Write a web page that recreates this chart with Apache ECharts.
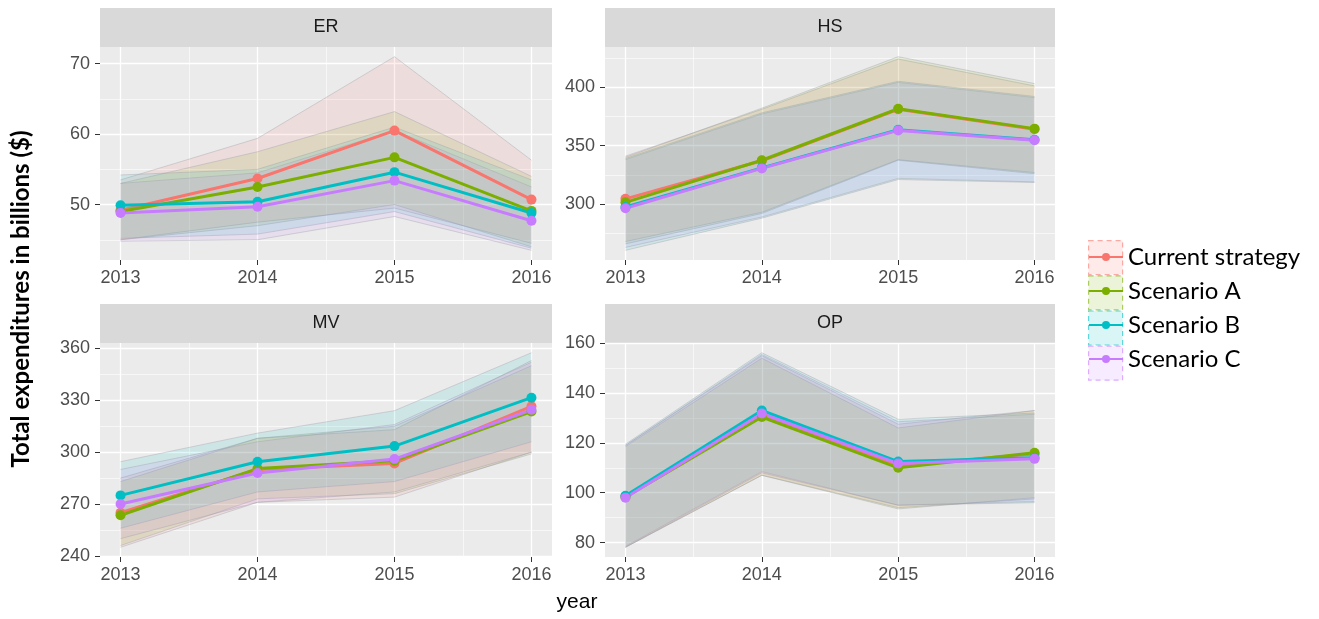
<!DOCTYPE html>
<html><head><meta charset="utf-8">
<script src="https://cdn.jsdelivr.net/npm/echarts@6/dist/echarts.min.js"></script>
<style>html,body{margin:0;padding:0;background:#fff}#c{width:1319px;height:619px}</style>
</head><body><div id="c"></div>
<script>
// ---------- data ----------
const years = [2013, 2014, 2015, 2016];
const scenarios = ['Current strategy', 'Scenario A', 'Scenario B', 'Scenario C'];
const panels = ['ER', 'HS', 'MV', 'OP'];

// rows: Current strategy, Scenario A, Scenario B, Scenario C
const erMean  = [[49.2, 53.7, 60.5, 50.7], [49.0, 52.5, 56.7, 49.1], [49.9, 50.4, 54.6, 48.8], [48.8, 49.7, 53.4, 47.7]];
const erUpper = [[53.5, 59.4, 71.0, 56.3], [53.0, 57.5, 63.2, 54.0], [54.2, 55.0, 61.0, 53.5], [53.0, 54.5, 60.5, 52.5]];
const erLower = [[45.0, 47.5, 49.5, 44.5], [45.0, 47.0, 50.0, 44.0], [45.2, 45.8, 49.0, 43.8], [44.8, 45.0, 48.3, 43.5]];

const hsMean  = [[304.5, 337.0, 381.0, 364.0], [301.5, 337.5, 381.5, 364.5], [297.5, 331.0, 363.5, 355.0], [296.5, 330.5, 363.0, 354.5]];
const hsUpper = [[341.0, 381.0, 424.0, 401.0], [340.0, 382.0, 426.0, 403.0], [339.0, 378.0, 405.0, 392.0], [338.0, 377.0, 404.0, 391.0]];
const hsLower = [[268.0, 293.0, 338.0, 327.0], [266.0, 292.0, 337.5, 326.0], [260.5, 288.0, 321.0, 318.5], [263.0, 289.0, 322.0, 319.0]];

const mvMean  = [[265.0, 290.0, 293.5, 326.5], [263.5, 290.5, 295.0, 323.5], [275.0, 294.5, 303.5, 331.5], [270.0, 288.0, 296.0, 324.5]];
const mvUpper = [[285.0, 308.0, 313.0, 353.0], [283.0, 308.0, 315.0, 350.0], [294.5, 311.0, 324.0, 357.5], [290.0, 306.0, 316.0, 352.0]];
const mvLower = [[245.0, 271.0, 274.0, 300.0], [246.0, 273.0, 276.0, 299.0], [256.0, 277.0, 283.0, 306.0], [250.0, 271.0, 277.0, 300.0]];

const opMean  = [[98.5, 131.0, 111.0, 115.5], [98.3, 130.4, 110.0, 116.0], [98.8, 133.0, 112.5, 114.0], [98.0, 131.8, 111.7, 113.6]];
const opUpper = [[119.0, 155.0, 127.5, 133.0], [118.5, 154.0, 126.0, 133.0], [119.5, 156.2, 129.5, 132.0], [119.0, 155.5, 128.5, 131.5]];
const opLower = [[78.1, 107.0, 94.0, 97.5], [78.1, 107.0, 93.5, 98.0], [78.5, 108.5, 95.0, 96.0], [78.1, 108.0, 95.0, 96.5]];

const erTicks = [50, 60, 70], erMinor = [45, 55, 65];
const hsTicks = [300, 350, 400], hsMinor = [275, 325, 375, 425];
const mvTicks = [240, 270, 300, 330, 360], mvMinor = [255, 285, 315, 345];
const opTicks = [80, 100, 120, 140, 160], opMinor = [90, 110, 130, 150];
const yearMinor = [2013.5, 2014.5, 2015.5];

// ---------- styling / layout ----------
const colors = ['#F8766D', '#7CAE00', '#00BFC4', '#C77CFF'];
const fills = ['rgba(248,118,109,0.12)', 'rgba(124,174,0,0.12)', 'rgba(0,191,196,0.12)', 'rgba(199,124,255,0.12)'];
const legendFills = ['rgba(248,118,109,0.15)', 'rgba(124,174,0,0.15)', 'rgba(0,191,196,0.15)', 'rgba(199,124,255,0.15)'];
const legendEdges = ['rgba(248,118,109,0.6)', 'rgba(124,174,0,0.6)', 'rgba(0,191,196,0.6)', 'rgba(199,124,255,0.6)'];
const ribbonEdge = 'rgba(160,160,170,0.4)';
const gridRects = [
  {left: 100, top: 47, width: 452, height: 213},
  {left: 605, top: 47, width: 450, height: 213},
  {left: 100, top: 343, width: 452, height: 214},
  {left: 605, top: 343, width: 450, height: 214}
];
const panelData = [
  {mean: erMean, up: erUpper, lo: erLower, ticks: erTicks, minor: erMinor},
  {mean: hsMean, up: hsUpper, lo: hsLower, ticks: hsTicks, minor: hsMinor},
  {mean: mvMean, up: mvUpper, lo: mvLower, ticks: mvTicks, minor: mvMinor},
  {mean: opMean, up: opUpper, lo: opLower, ticks: opTicks, minor: opMinor}
];
const axisFont = {color: '#4d4d4d', fontSize: 18, fontFamily: 'Liberation Sans'};
const xMin = years[0] - 0.05 * (years[3] - years[0]);
const xMax = years[3] + 0.05 * (years[3] - years[0]);

const grid = gridRects.map(r => Object.assign({show: true, backgroundColor: '#ebebeb', borderWidth: 0, containLabel: false}, r));
const xAxis = [], yAxis = [], series = [], graphic = [];

panelData.forEach((pd, i) => {
  const all = pd.up.flat().concat(pd.lo.flat());
  const dMin = Math.min(...all), dMax = Math.max(...all);
  const yMin = dMin - 0.05 * (dMax - dMin), yMax = dMax + 0.05 * (dMax - dMin);
  xAxis.push({
    type: 'value', gridIndex: i, min: xMin, max: xMax,
    axisLine: {show: false},
    axisTick: {show: true, customValues: years, length: 5, lineStyle: {color: '#333', width: 1}},
    axisLabel: Object.assign({customValues: years, margin: 9, formatter: v => String(v)}, axisFont),
    splitLine: {show: true, lineStyle: {color: '#ffffff', width: 1.3}}
  });
  xAxis.push({
    type: 'value', gridIndex: i, min: xMin, max: xMax,
    axisLine: {show: false},
    axisTick: {show: false, customValues: yearMinor},
    axisLabel: {show: false, customValues: yearMinor},
    splitLine: {show: true, lineStyle: {color: '#ffffff', width: 0.6}}
  });
  yAxis.push({
    type: 'value', gridIndex: i, min: yMin, max: yMax,
    axisLine: {show: false},
    axisTick: {show: true, customValues: pd.ticks, length: 5, lineStyle: {color: '#333', width: 1}},
    axisLabel: Object.assign({customValues: pd.ticks, margin: 10, formatter: v => String(v)}, axisFont),
    splitLine: {show: true, lineStyle: {color: '#ffffff', width: 1.3}}
  });
  yAxis.push({
    type: 'value', gridIndex: i, min: yMin, max: yMax,
    axisLine: {show: false},
    axisTick: {show: false, customValues: pd.minor},
    axisLabel: {show: false, customValues: pd.minor},
    splitLine: {show: true, lineStyle: {color: '#ffffff', width: 0.6}}
  });
});

// main lines first (legend reads its icon from the first series with a name)
panelData.forEach((pd, i) => {
  scenarios.forEach((name, s) => {
    series.push({
      type: 'line', name, xAxisIndex: 2 * i, yAxisIndex: 2 * i,
      data: years.map((y, k) => [y, pd.mean[s][k]]),
      symbol: 'circle', symbolSize: 10, showSymbol: true,
      lineStyle: {color: colors[s], width: 3},
      itemStyle: {color: colors[s]},
      z: 5, animation: false
    });
  });
});

// confidence ribbons: polygon between lower and upper, drawn through the axis scales
function ribbonRenderer(s) {
  return function (params, api) {
    if (params.dataIndexInside !== 0) return null;
    const n = params.dataInsideLength;
    const up = [], lo = [];
    for (let k = 0; k < n; k++) {
      up.push(api.coord([api.value(0, k), api.value(2, k)]));
      lo.push(api.coord([api.value(0, k), api.value(1, k)]));
    }
    return {
      type: 'group',
      children: [
        {type: 'polygon', shape: {points: up.concat(lo.slice().reverse())}, style: {fill: fills[s]}},
        {type: 'polyline', shape: {points: up}, style: {stroke: ribbonEdge, lineWidth: 1, fill: null}},
        {type: 'polyline', shape: {points: lo}, style: {stroke: ribbonEdge, lineWidth: 1, fill: null}}
      ]
    };
  };
}
panelData.forEach((pd, i) => {
  scenarios.forEach((name, s) => {
    series.push({
      type: 'custom', name, xAxisIndex: 2 * i, yAxisIndex: 2 * i,
      data: years.map((y, k) => [y, pd.lo[s][k], pd.up[s][k]]),
      encode: {x: 0, y: [1, 2]},
      renderItem: ribbonRenderer(s),
      silent: true, clip: true, z: 2, animation: false
    });
  });
});

// facet strips
gridRects.forEach((r, i) => {
  graphic.push({type: 'rect', shape: {x: r.left, y: r.top - 39, width: r.width, height: 39}, style: {fill: '#d9d9d9'}, z: 0});
  graphic.push({type: 'text', x: r.left + r.width / 2, y: r.top - 19.5,
    style: {text: panels[i], font: '18px "Liberation Sans"', fill: '#1a1a1a', align: 'center', verticalAlign: 'middle', textAlign: 'center', textVerticalAlign: 'middle'}, z: 1});
});
graphic.push({type: 'text', x: 21, y: 299, rotation: Math.PI / 2,
  style: {text: 'Total expenditures in billions ($)', font: 'bold 24px Lato', fill: '#000', align: 'center', verticalAlign: 'middle', textAlign: 'center', textVerticalAlign: 'middle'}});
graphic.push({type: 'text', x: 577, y: 602,
  style: {text: 'year', font: '21px "Liberation Sans"', fill: '#000', align: 'center', verticalAlign: 'middle', textAlign: 'center', textVerticalAlign: 'middle'}});

const legendText = {fontFamily: 'Lato', fontSize: 24, lineHeight: 34, color: '#000'};
const option = {
  animation: false,
  grid, xAxis, yAxis, series, graphic,
  legend: [
    {
      orient: 'vertical', left: 1083, top: 235, itemGap: 0, itemWidth: 34, itemHeight: 34,
      selectedMode: false, z: 1,
      textStyle: Object.assign({}, legendText, {color: 'rgba(0,0,0,0)'}),
      data: scenarios.map((n, s) => ({name: n, icon: 'rect',
        itemStyle: {color: legendFills[s], borderColor: legendEdges[s], borderWidth: 1.2, borderType: [5, 4], opacity: 1}}))
    },
    {
      orient: 'vertical', left: 1083, top: 235, itemGap: 0, itemWidth: 34, itemHeight: 10,
      selectedMode: false, z: 3,
      textStyle: legendText,
      data: scenarios
    }
  ]
};
const chart = echarts.init(document.getElementById('c'), null, {renderer: 'canvas'});
chart.setOption(option);
</script></body></html>
